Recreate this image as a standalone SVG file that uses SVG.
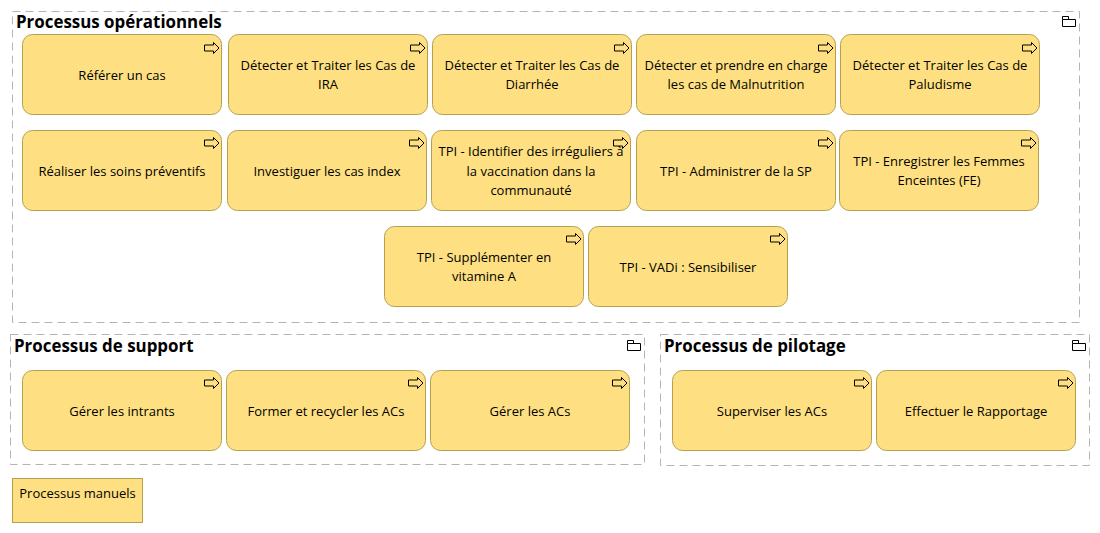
<svg xmlns="http://www.w3.org/2000/svg" width="1100" height="533" viewBox="0 0 1100 533">
<style>
.g{fill:#fff;stroke:#b4b4b4;stroke-width:1;stroke-dasharray:8 5}
.n{fill:#fee082;stroke:#b5a050;stroke-width:1}
.t{font-family:"Open Sans","Noto Sans","Liberation Sans",sans-serif;font-size:13px;fill:#000;text-anchor:middle}
.h{font-family:"Open Sans","Noto Sans","Liberation Sans",sans-serif;font-size:16.9px;font-weight:700;fill:#000}
.i{fill:none;stroke:#000;stroke-width:1}
</style>
<defs>
<g id="arrow"><path class="i" d="M-14.500 -3H-5.500V-5.500L0 0L-5.500 5.500V3H-14.500Z"/></g>
<g id="folder"><path class="i" d="M0.500 3.500H13.500V10.500H0.500ZM0.500 3.500V0.500H6.500V3.500"/></g>
</defs>
<g id="group-operationnels"><rect class="g" x="12.500" y="11.500" width="1067" height="311"/><text class="h" x="16" y="28">Processus opérationnels</text><use href="#folder" x="1062" y="16"/></g>
<g id="group-support"><rect class="g" x="10.500" y="334.500" width="634" height="130"/><text class="h" x="14" y="352">Processus de support</text><use href="#folder" x="627" y="340"/></g>
<g id="group-pilotage"><rect class="g" x="660.500" y="334.500" width="429" height="131"/><text class="h" x="664" y="352">Processus de pilotage</text><use href="#folder" x="1072" y="340"/></g>
<g id="connectors"/>
<g id="n1"><rect class="n" x="22.500" y="34.500" width="199" height="80" rx="10"/><use href="#arrow" x="219" y="48"/><text class="t" x="122" y="80">Référer un cas</text></g>
<g id="n2"><rect class="n" x="228.500" y="34.500" width="199" height="80" rx="10"/><use href="#arrow" x="425" y="48"/><text class="t" x="328" y="70">Détecter et Traiter les Cas de</text><text class="t" x="328" y="89">IRA</text></g>
<g id="n3"><rect class="n" x="432.500" y="34.500" width="199" height="80" rx="10"/><use href="#arrow" x="629" y="48"/><text class="t" x="532" y="70">Détecter et Traiter les Cas de</text><text class="t" x="532" y="89">Diarrhée</text></g>
<g id="n4"><rect class="n" x="636.500" y="34.500" width="199" height="80" rx="10"/><use href="#arrow" x="833" y="48"/><text class="t" x="736" y="70">Détecter et prendre en charge</text><text class="t" x="736" y="89">les cas de Malnutrition</text></g>
<g id="n5"><rect class="n" x="840.500" y="34.500" width="199" height="80" rx="10"/><use href="#arrow" x="1037" y="48"/><text class="t" x="940" y="70">Détecter et Traiter les Cas de</text><text class="t" x="940" y="89">Paludisme</text></g>
<g id="n6"><rect class="n" x="22.500" y="130.500" width="199" height="80" rx="10"/><use href="#arrow" x="219" y="143"/><text class="t" x="122" y="176">Réaliser les soins préventifs</text></g>
<g id="n7"><rect class="n" x="227.500" y="130.500" width="199" height="80" rx="10"/><use href="#arrow" x="424" y="143"/><text class="t" x="327" y="176">Investiguer les cas index</text></g>
<g id="n8"><rect class="n" x="431.500" y="130.500" width="199" height="80" rx="10"/><text class="t" x="531" y="156">TPI - Identifier des irréguliers à</text><text class="t" x="531" y="176">la vaccination dans la</text><text class="t" x="531" y="195">communauté</text><use href="#arrow" x="628" y="143"/></g>
<g id="n9"><rect class="n" x="636.500" y="130.500" width="199" height="80" rx="10"/><use href="#arrow" x="833" y="143"/><text class="t" x="736" y="176">TPI - Administrer de la SP</text></g>
<g id="n10"><rect class="n" x="839.500" y="130.500" width="199" height="80" rx="10"/><use href="#arrow" x="1036" y="143"/><text class="t" x="939" y="166">TPI - Enregistrer les Femmes</text><text class="t" x="939" y="185">Enceintes (FE)</text></g>
<g id="n11"><rect class="n" x="384.500" y="226.500" width="199" height="80" rx="10"/><use href="#arrow" x="581" y="239"/><text class="t" x="484" y="262">TPI - Supplémenter en</text><text class="t" x="484" y="281">vitamine A</text></g>
<g id="n12"><rect class="n" x="588.500" y="226.500" width="199" height="80" rx="10"/><use href="#arrow" x="785" y="239"/><text class="t" x="688" y="272">TPI - VADi : Sensibiliser</text></g>
<g id="n13"><rect class="n" x="22.500" y="370.500" width="199" height="80" rx="10"/><use href="#arrow" x="219" y="383"/><text class="t" x="122" y="416">Gérer les intrants</text></g>
<g id="n14"><rect class="n" x="226.500" y="370.500" width="199" height="80" rx="10"/><use href="#arrow" x="423" y="383"/><text class="t" x="326" y="416">Former et recycler les ACs</text></g>
<g id="n15"><rect class="n" x="430.500" y="370.500" width="199" height="80" rx="10"/><use href="#arrow" x="627" y="383"/><text class="t" x="530" y="416">Gérer les ACs</text></g>
<g id="n16"><rect class="n" x="672.500" y="370.500" width="199" height="80" rx="10"/><use href="#arrow" x="869" y="383"/><text class="t" x="772" y="416">Superviser les ACs</text></g>
<g id="n17"><rect class="n" x="876.500" y="370.500" width="199" height="80" rx="10"/><use href="#arrow" x="1073" y="383"/><text class="t" x="976" y="416">Effectuer le Rapportage</text></g>
<g id="legend"><rect class="n" x="12.500" y="478.500" width="130" height="44"/><text class="t" x="77.500" y="498">Processus manuels</text></g>
</svg>
